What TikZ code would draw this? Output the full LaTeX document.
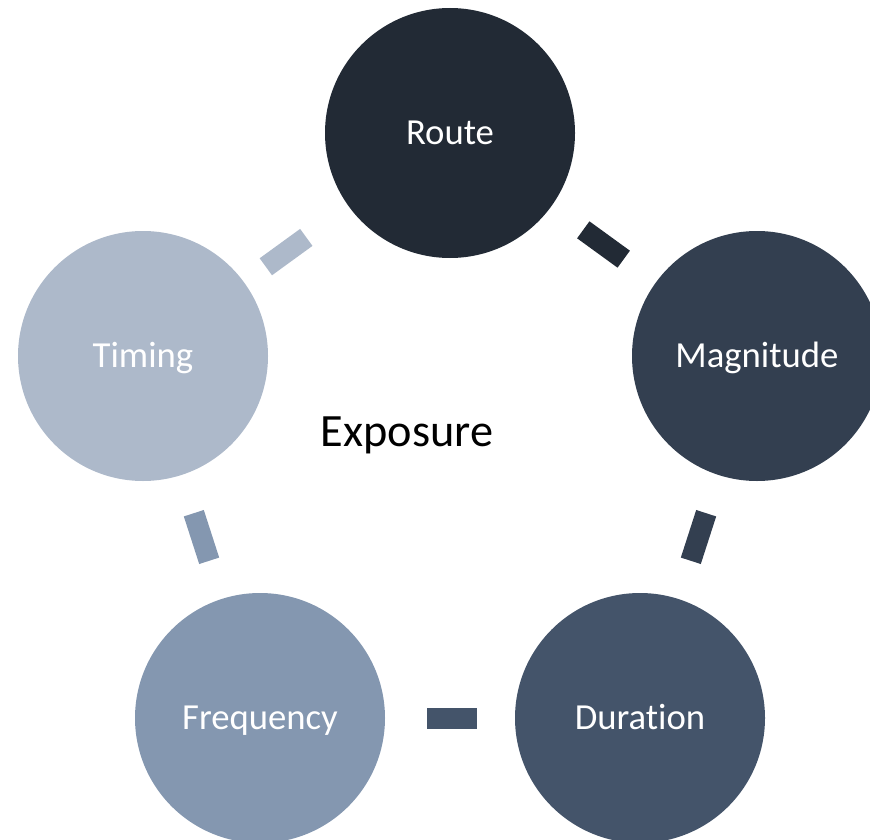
\documentclass[tikz,border=0pt]{standalone}
\usepackage{fontspec}
\setmainfont{Carlito}[Ligatures=NoCommon]
\definecolor{cRoute}{HTML}{222A35}
\definecolor{cMag}{HTML}{333F50}
\definecolor{cDur}{HTML}{44546A}
\definecolor{cFreq}{HTML}{8497B0}
\definecolor{cTim}{HTML}{ADB9CA}
\begin{document}
\begin{tikzpicture}[x=1pt,y=-1pt,
  stage/.style={circle, minimum size=250pt, inner sep=0pt, text=white, font=\fontsize{36.7}{40}\selectfont, text height=23.6pt, text depth=0pt},
  barlink/.style={rectangle, minimum width=50pt, minimum height=21pt, inner sep=0pt, sloped}]
\useasboundingbox (0,0) rectangle (870,840);
\clip (0,0) rectangle (870,840);
\node[stage, fill=cRoute] (route) at (450,133) {Route};
\node[stage, fill=cMag] (mag) at (757,356) {Magnitude};
\node[stage, fill=cDur] (dur) at (640,718) {Duration};
\node[stage, fill=cFreq] (freq) at (260,718) {Frequency};
\node[stage, fill=cTim] (tim) at (143,356) {Timing};
\node[font=\fontsize{46.3}{50}\selectfont, text=black, text height=29.8pt, text depth=0pt, inner sep=0pt] (exp) at (407,432) {Exposure};
\path (route.center) -- (mag.center) node[midway, barlink, fill=cRoute] (b1) {};
\path (mag.center) -- (dur.center) node[midway, barlink, fill=cMag] (b2) {};
\path (dur.center) -- (freq.center) node[pos=0.495, barlink, fill=cDur] (b3) {};
\path (freq.center) -- (tim.center) node[midway, barlink, fill=cFreq] (b4) {};
\path (tim.center) -- (route.center) node[pos=0.466, barlink, fill=cTim] (b5) {};
\end{tikzpicture}
\end{document}
